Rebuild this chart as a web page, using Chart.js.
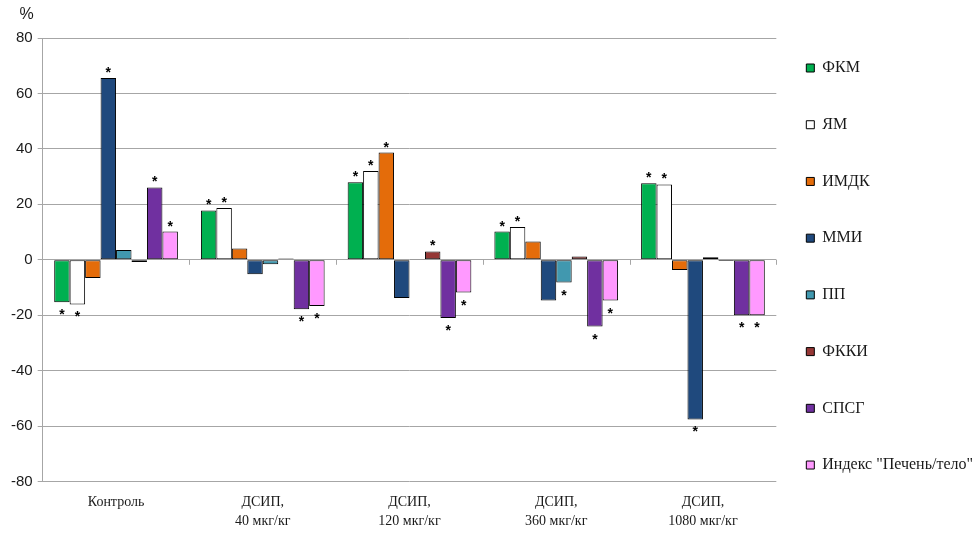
<!DOCTYPE html>
<html>
<head>
<meta charset="utf-8">
<script src="https://cdn.jsdelivr.net/npm/chart.js@4/dist/chart.umd.min.js"></script>
<style>
  html, body { margin: 0; padding: 0; background: #ffffff; }
  #wrap { width: 975px; height: 540px; }
</style>
</head>
<body>
<div id="wrap"><canvas id="GraficoDSIP"></canvas></div>
<script>
const categorias = [
  "Контроль",
  ["ДСИП,", "40 мкг/кг"],
  ["ДСИП,", "120 мкг/кг"],
  ["ДСИП,", "360 мкг/кг"],
  ["ДСИП,", "1080 мкг/кг"]
];

const nomes = ["ФКМ", "ЯМ", "ИМДК", "ММИ", "ПП", "ФККИ", "СПСГ", "Индекс \"Печень/тело\""];

const valoresFKM = [-15.3, 17.8, 28.0, 10.2, 27.6];
const valoresYAM = [-16.1, 18.7, 32.0, 11.8, 27.2];
const valoresIMDK = [-6.6, 4.1, 38.7, 6.6, -3.7];
const valoresMMI = [65.6, -5.2, -13.8, -14.7, -57.6];
const valoresPP = [3.5, -1.6, 0.3, -8.2, 0.9];
const valoresFKKI = [-0.8, 0.5, 3.0, 1.2, -0.4];
const valoresSPSG = [26.1, -17.8, -21.0, -24.1, -20.0];
const valoresIndice = [10.2, -16.7, -11.8, -14.7, -20.0];

// asterisco = diferença significativa
const sigFKM = [1, 1, 1, 1, 1];
const sigYAM = [1, 1, 1, 1, 1];
const sigIMDK = [0, 0, 1, 0, 0];
const sigMMI = [1, 0, 0, 0, 1];
const sigPP = [0, 0, 0, 1, 0];
const sigFKKI = [0, 0, 1, 0, 0];
const sigSPSG = [1, 1, 1, 1, 1];
const sigIndice = [1, 1, 1, 1, 1];

const cores = ["#00B050", "#FFFFFF", "#E46C0A", "#1F497D", "#4198AF", "#953735", "#7030A0", "#FF99FF"];

const series = [valoresFKM, valoresYAM, valoresIMDK, valoresMMI, valoresPP, valoresFKKI, valoresSPSG, valoresIndice];
const significancia = [sigFKM, sigYAM, sigIMDK, sigMMI, sigPP, sigFKKI, sigSPSG, sigIndice];

const corGrade = "#A6A6A6";

const asteriscos = {
  id: "asteriscos",
  afterDatasetsDraw(chart) {
    const ctx = chart.ctx;
    ctx.save();
    ctx.fillStyle = "#000";
    ctx.font = "bold 14px 'Liberation Sans', Arial, sans-serif";
    ctx.textAlign = "center";
    ctx.textBaseline = "alphabetic";
    chart.data.datasets.forEach((ds, i) => {
      const meta = chart.getDatasetMeta(i);
      meta.data.forEach((barra, j) => {
        if (!significancia[i][j]) return;
        const v = ds.data[j];
        if (v >= 0) {
          ctx.fillText("*", barra.x, barra.y - 1);
        } else {
          ctx.fillText("*", barra.x, barra.y + 17);
        }
      });
    });
    ctx.restore();
  }
};

const marcasZero = {
  id: "marcasZero",
  afterDraw(chart) {
    const ctx = chart.ctx;
    const x = chart.scales.x;
    const y0 = chart.scales.y.getPixelForValue(0);
    const largura = (x.right - x.left) / categorias.length;
    ctx.save();
    ctx.strokeStyle = corGrade;
    ctx.lineWidth = 1;
    ctx.beginPath();
    for (let k = 1; k <= categorias.length; k++) {
      const px = Math.round(x.left + k * largura) + 0.5;
      ctx.moveTo(px, y0);
      ctx.lineTo(px, y0 + 5);
    }
    ctx.stroke();
    // "%" acima do eixo
    ctx.fillStyle = "#1a1a1a";
    ctx.font = "16px 'Liberation Sans', Arial, sans-serif";
    ctx.textAlign = "right";
    ctx.textBaseline = "middle";
    ctx.fillText("%", chart.chartArea.left - 9, 15);
    ctx.restore();
  }
};

new Chart(document.getElementById("GraficoDSIP"), {
  type: "bar",
  data: {
    labels: categorias,
    datasets: series.map((valores, i) => ({
      label: nomes[i],
      data: valores,
      backgroundColor: cores[i],
      borderColor: "#000000",
      borderWidth: 1,
      borderSkipped: false,
      categoryPercentage: 0.843,
      barPercentage: 1.0
    }))
  },
  options: {
    responsive: true,
    maintainAspectRatio: false,
    animation: false,
    layout: {
      padding: { top: 38, left: 6, right: -8, bottom: -2 }
    },
    scales: {
      y: {
        min: -80,
        max: 80,
        ticks: {
          stepSize: 20,
          padding: 5,
          color: "#1a1a1a",
          font: { family: "'Liberation Sans', Arial, sans-serif", size: 15 }
        },
        grid: {
          color: corGrade,
          tickLength: 5,
          tickColor: corGrade
        },
        border: { display: true, color: corGrade }
      },
      x: {
        grid: { display: false, drawTicks: false },
        border: { display: false },
        ticks: {
          padding: 12,
          color: "#1a1a1a",
          maxRotation: 0,
          autoSkip: false,
          font: { family: "'Liberation Serif', 'Times New Roman', serif", size: 14, lineHeight: 1.3 }
        }
      }
    },
    plugins: {
      legend: {
        position: "right",
        align: "start",
        // título vazio com padding negativo só para subir a coluna da legenda
        title: {
          display: true,
          text: "",
          font: { size: 1, lineHeight: 1 },
          padding: { top: -9, bottom: 0 }
        },
        labels: {
          boxWidth: 8,
          boxHeight: 8,
          padding: 30,
          color: "#1a1a1a",
          font: { family: "'Liberation Serif', 'Times New Roman', serif", size: 16, lineHeight: 1.67 },
          generateLabels(chart) {
            // texto em array para que a altura da linha controle o espaçamento vertical
            return Chart.defaults.plugins.legend.labels.generateLabels(chart).map(l => ({
              ...l,
              text: [l.text],
              strokeStyle: "#000000",
              lineWidth: 1
            }));
          }
        },
        onClick: null
      },
      tooltip: { enabled: false },
      title: { display: false }
    }
  },
  plugins: [asteriscos, marcasZero]
});
</script>
</body>
</html>
